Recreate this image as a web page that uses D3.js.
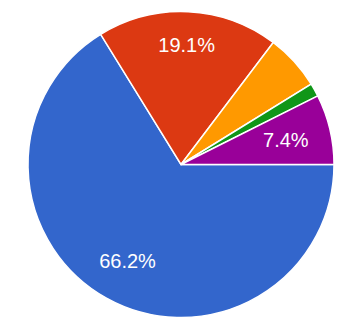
<!DOCTYPE html>
<html>
<head>
<meta charset="utf-8">
<script src="https://cdn.jsdelivr.net/npm/d3@7"></script>
<style>
  html, body { margin: 0; padding: 0; background: #fff; }
</style>
</head>
<body>
<div id="chart"></div>
<script>
const categories = ['A', 'B', 'C', 'D', 'E'];
const values = [66.2, 19.1, 5.9, 1.4, 7.4];
const colors = ['#3366cc', '#dc3912', '#ff9900', '#109618', '#990099'];
const labels = ['66.2%', '19.1%', '', '', '7.4%'];

const W = 351, H = 333;
const CX = 181, CY = 164.5, R = 153;
const FONT = 20;

const svg = d3.select('#chart').append('svg')
  .attr('width', W)
  .attr('height', H);

const g = svg.append('g')
  .attr('transform', `translate(${CX}, ${CY})`);

const data = categories.map((c, i) => ({ name: c, value: values[i], color: colors[i], label: labels[i] }));

// first slice starts at 3 o'clock, clockwise
const pie = d3.pie()
  .sort(null)
  .value(d => d.value)
  .startAngle(Math.PI / 2)
  .endAngle(Math.PI / 2 + 2 * Math.PI);

const arcs = pie(data);

const arc = d3.arc().innerRadius(0).outerRadius(R);

g.selectAll('path')
  .data(arcs)
  .join('path')
  .attr('d', arc)
  .attr('fill', d => d.data.color)
  .attr('stroke', '#fff')
  .attr('stroke-width', 1.5);

const texts = g.selectAll('text')
  .data(arcs.filter(d => d.data.label))
  .join('text')
  .attr('text-anchor', 'middle')
  .attr('dy', '0.36em')
  .attr('fill', '#fff')
  .style('font-family', 'Arial, "Liberation Sans", sans-serif')
  .style('font-size', FONT + 'px')
  .text(d => d.data.label);

// push each label out along its mid angle until the text box reaches ~0.86 R
texts.each(function(d) {
  const hw = this.getComputedTextLength() / 2;
  const hh = FONT * 0.36;
  const a = (d.startAngle + d.endAngle) / 2;
  const ux = Math.sin(a), uy = -Math.cos(a);
  const reach = t => {
    const x = ux * t, y = uy * t;
    return Math.max(...[[-1, -1], [1, -1], [-1, 1], [1, 1]]
      .map(([sx, sy]) => Math.hypot(x + sx * hw, y + sy * hh)));
  };
  let lo = 0, hi = R;
  for (let k = 0; k < 40; k++) {
    const mid = (lo + hi) / 2;
    if (reach(mid) < R * 0.86) lo = mid; else hi = mid;
  }
  d3.select(this).attr('transform', `translate(${ux * lo}, ${uy * lo})`);
});
</script>
</body>
</html>
